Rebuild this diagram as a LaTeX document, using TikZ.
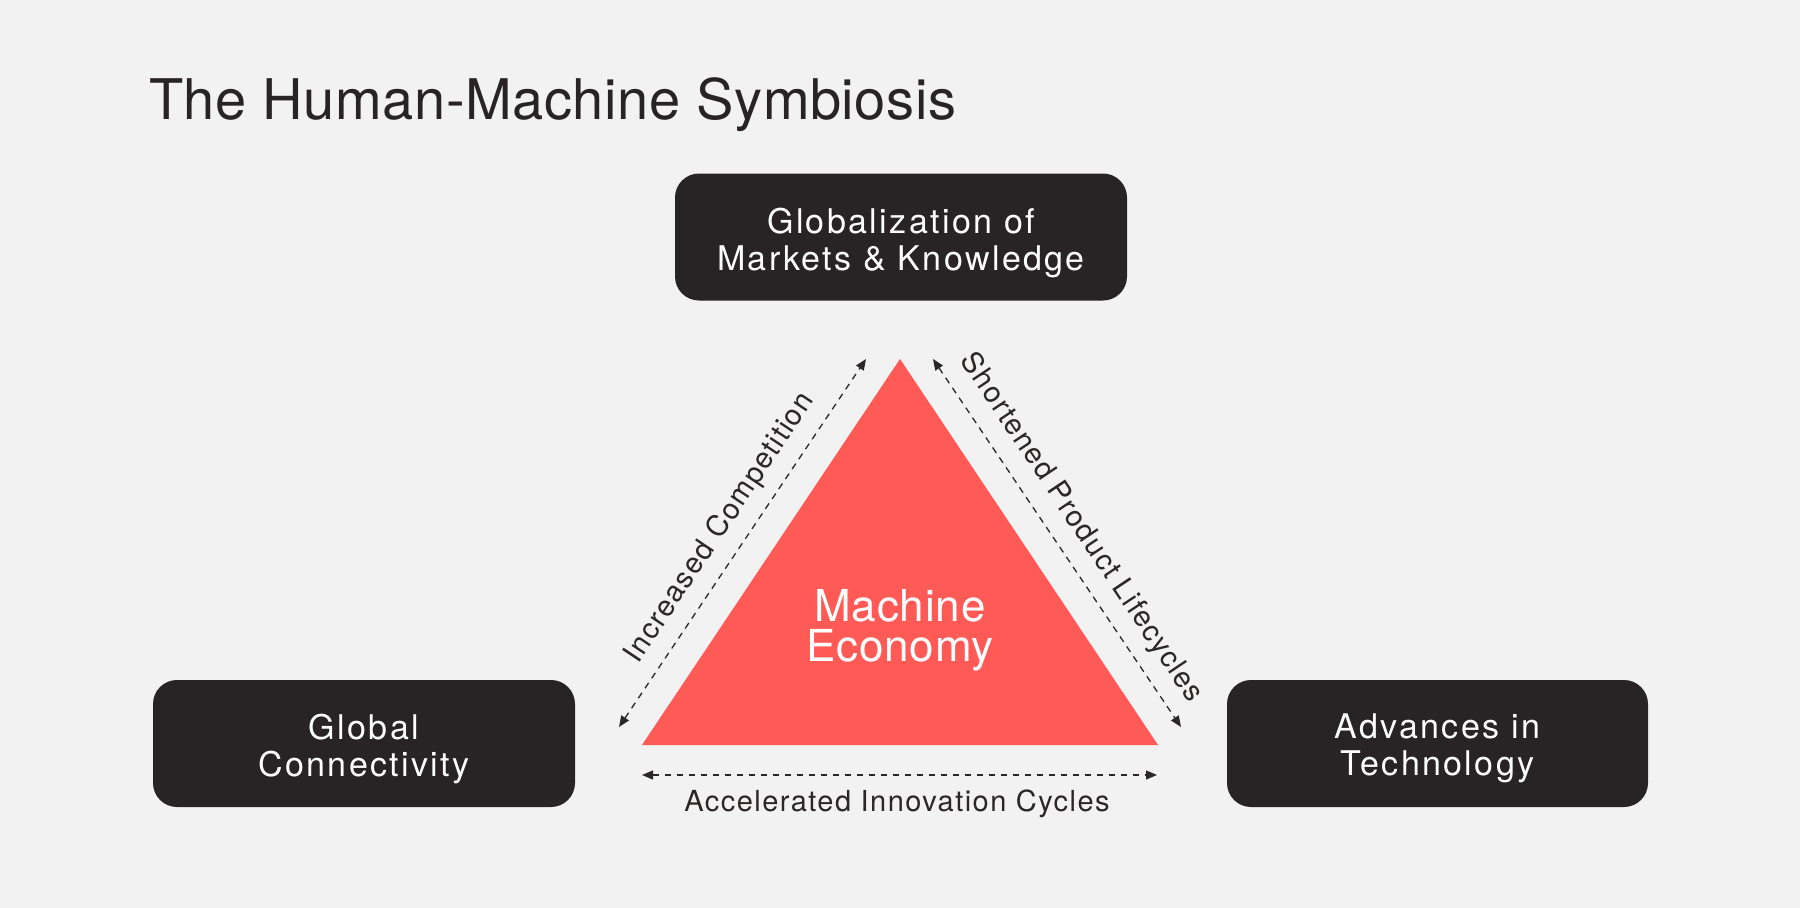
\documentclass[tikz,border=0pt]{standalone}
\usepackage{fontspec}
\setmainfont{TeX Gyre Heros}
\newfontfamily\titlefont[LetterSpace=1]{TeX Gyre Heros}
\newfontfamily\boxfont[LetterSpace=7]{TeX Gyre Heros}
\newfontfamily\midfont[LetterSpace=2]{TeX Gyre Heros}
\newfontfamily\labfont[LetterSpace=5]{TeX Gyre Heros}
\usetikzlibrary{arrows.meta}
\definecolor{bgcol}{HTML}{F2F2F2}
\definecolor{ink}{HTML}{282325}
\definecolor{coral}{HTML}{FF5A55}
\definecolor{linecol}{HTML}{2B2727}
\begin{document}
\begin{tikzpicture}[x=1pt,y=-1pt,
  box/.style={fill=ink, rounded corners=24pt, minimum height=127pt, inner sep=0pt},
  boxtext/.style={text=white, align=center, inner sep=0pt,
    font=\boxfont\fontsize{34}{37}\selectfont},
  conn/.style={draw=linecol, line width=1.3pt, dash pattern=on 6.5pt off 5.5pt,
    {Triangle[length=11pt,width=9pt]}-{Triangle[length=11pt,width=9pt]}},
  lab/.style={text=linecol, inner sep=0pt, font=\labfont\fontsize{29}{32}\selectfont}]
\useasboundingbox (0,0) rectangle (1800,908);
\fill[bgcol] (0,0) rectangle (1800,908);

\node[anchor=base west, inner sep=0pt, text=ink, font=\titlefont\fontsize{56}{60}\selectfont]
  (title) at (149,119) {The Human-Machine Symbiosis};

\node[box, minimum width=452pt] (glob) at (901,237) {};
\node[boxtext] (globt) at ([yshift=-6pt]glob.center) {Globalization of\\Markets \& Knowledge};
\node[box, minimum width=422pt] (conn) at (364,743.5) {};
\node[boxtext] (connt) at ([yshift=-5pt]conn.center) {Global\\Connectivity};
\node[box, minimum width=421pt] (tech) at (1437.5,743.5) {};
\node[boxtext] (techt) at ([yshift=-5pt]tech.center) {Advances in\\Technology};

\coordinate (A) at (900,359);
\coordinate (B) at (642,745);
\coordinate (C) at (1158,745);
\fill[coral] (A) -- (B) -- (C) -- cycle;
\node[text=white, align=center, inner sep=0pt, font=\midfont\fontsize{44}{40}\selectfont]
  (econ) at (900,630.5) {Machine\\Economy};

\coordinate (L1) at (619,727);
\coordinate (L2) at (866,359);
\coordinate (R1) at (933,359);
\coordinate (R2) at (1181,727);
\coordinate (B1) at (642,775);
\coordinate (B2) at (1157,775);
\draw[conn] (L1) -- (L2);
\draw[conn] (R1) -- (R2);
\draw[conn] (B1) -- (B2);

\node[lab, rotate=56.25] (comp) at (720,528) {Increased Competition};
\node[lab, rotate=-56.25] (life) at (1081,528) {Shortened Product Lifecycles};
\node[lab] (innov) at (897,804) {Accelerated Innovation Cycles};
\end{tikzpicture}
\end{document}
